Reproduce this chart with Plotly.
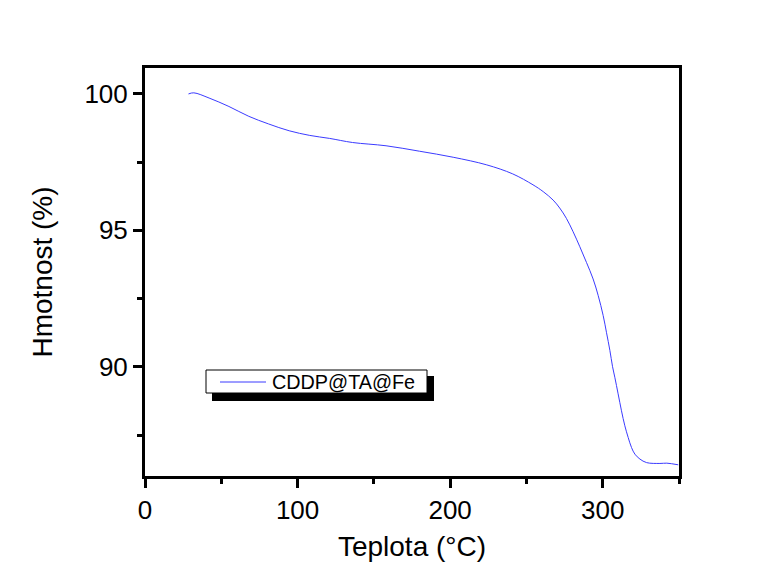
"""TGA curve of CDDP@TA@Fe: mass (%) against temperature (°C)."""

import plotly.graph_objects as go

# temperature (°C) and remaining mass (%)
teplota = [28.5, 32, 42, 55, 68, 81, 94.5, 108, 121, 136, 158, 180, 202, 224,
           241, 254.3, 261, 267.5, 271.8, 276.2, 280.6, 285, 289.4, 293.7, 297,
           300.3, 302.5, 304.7, 306.4, 308, 310.1, 312.3, 314.5, 316.7, 318.9,
           321.1, 324.4, 328.8, 337.5, 342, 349.5]
hmotnost = [100.0, 100.04, 99.85, 99.54, 99.18, 98.90, 98.65, 98.48, 98.37,
            98.22, 98.10, 97.90, 97.68, 97.40, 97.07, 96.67, 96.42, 96.11,
            95.82, 95.44, 94.95, 94.40, 93.82, 93.22, 92.62, 91.88, 91.25,
            90.60, 90.02, 89.60, 89.01, 88.39, 87.84, 87.41, 87.04, 86.80,
            86.62, 86.49, 86.46, 86.47, 86.41]
serie = "CDDP@TA@Fe"

X_RANGE = [0, 350]
Y_RANGE = [86.0, 100.95]
X_TICKS = [0, 100, 200, 300]
Y_TICKS = [90, 95, 100]

FONT = "Liberation Sans, Arial, sans-serif"
BLUE = "#3b3bff"

fig = go.Figure(go.Scatter(
    x=teplota, y=hmotnost, mode="lines", name=serie, showlegend=False,
    line=dict(color=BLUE, width=1, shape="spline", smoothing=1.0),
))

axis_common = dict(
    showline=True, linewidth=3, linecolor="black", mirror=True,
    ticks="outside", ticklen=9, tickwidth=3, tickcolor="black",
    showgrid=False, zeroline=False, automargin=False,
    tickfont=dict(family=FONT, size=26, color="black"),
    minor=dict(ticks="outside", ticklen=5, tickwidth=3, tickcolor="black"),
)

fig.update_xaxes(
    range=X_RANGE, tickvals=X_TICKS, minor_dtick=50,
    title=dict(text="Teplota (°C)", font=dict(family=FONT, size=28, color="black"),
               standoff=20),
    **axis_common,
)
fig.update_yaxes(
    range=Y_RANGE, tickvals=Y_TICKS, minor_dtick=2.5,
    title=dict(text="Hmotnost (%)", font=dict(family=FONT, size=28, color="black"),
               standoff=24),
    **axis_common,
)

# Origin-style legend box with drop shadow, placed in pixel terms
L, B, W, H = 145, 86, 534, 408
def px_x(p): return (p - L) / W
def px_y(p): return (562 - B - p) / H

fig.add_shape(type="rect", xref="paper", yref="paper",
              x0=px_x(212), x1=px_x(434), y0=px_y(401), y1=px_y(376),
              fillcolor="black", line=dict(width=0))
fig.add_shape(type="rect", xref="paper", yref="paper",
              x0=px_x(206), x1=px_x(427), y0=px_y(393), y1=px_y(370),
              fillcolor="white", line=dict(color="black", width=1))
fig.add_shape(type="line", xref="paper", yref="paper",
              x0=px_x(220), x1=px_x(266), y0=px_y(382), y1=px_y(382),
              line=dict(color=BLUE, width=1))
fig.add_annotation(xref="paper", yref="paper", x=px_x(270), y=px_y(382),
                   xanchor="left", yanchor="middle", showarrow=False,
                   text=serie, font=dict(family=FONT, size=19.8, color="black"))

fig.update_layout(
    width=771, height=562,
    margin=dict(l=L, r=771 - L - W, t=562 - B - H, b=B),
    paper_bgcolor="white", plot_bgcolor="white",
    showlegend=False,
)

# drop the browser's default body margin so the figure sits at (0, 0)
fig.write_html("out.html", config={"displayModeBar": False},
               post_script="document.body.style.margin='0';")
